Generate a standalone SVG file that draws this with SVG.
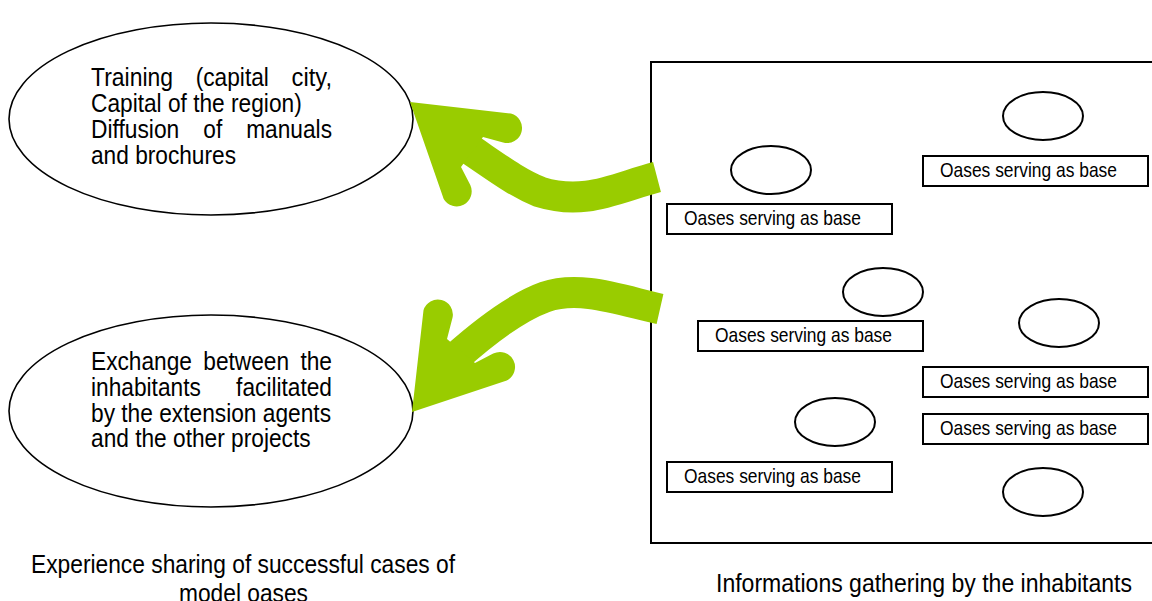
<svg xmlns="http://www.w3.org/2000/svg" width="1152" height="601" viewBox="0 0 1152 601">
  <defs>
    <style>
      .bg { fill: #ffffff; }
      .big { fill: #ffffff; stroke: #000000; stroke-width: 1.6; }
      .oasis { fill: #ffffff; stroke: #000000; stroke-width: 2; }
      .label { fill: #ffffff; stroke: #000000; stroke-width: 2; }
      .frame { fill: none; stroke: #000000; stroke-width: 2; }
      .txt { font-family: "Liberation Sans", Arial, sans-serif; fill: #000000; }
      .t26 { font-size: 26px; }
      .t21 { font-size: 21px; }
      .band { fill: none; stroke: #99cc00; stroke-width: 31; stroke-linecap: butt; }
      .head { fill: #99cc00; }
    </style>
  </defs>

  <rect class="bg" x="0" y="0" width="1152" height="601"/>

  <!-- left: shared experience -->
  <g id="training">
    <ellipse class="big" cx="211" cy="119" rx="202" ry="96"/>
    <g class="txt t26">
      <text x="91" y="86" textLength="82" lengthAdjust="spacingAndGlyphs">Training</text>
      <text x="195.7" y="86" textLength="73.2" lengthAdjust="spacingAndGlyphs">(capital</text>
      <text x="291.6" y="86" textLength="40.4" lengthAdjust="spacingAndGlyphs">city,</text>
      <text x="91" y="112" textLength="210.7" lengthAdjust="spacingAndGlyphs">Capital of the region)</text>
      <text x="91" y="138" textLength="88.3" lengthAdjust="spacingAndGlyphs">Diffusion</text>
      <text x="203.3" y="138" textLength="18.9" lengthAdjust="spacingAndGlyphs">of</text>
      <text x="246.2" y="138" textLength="85.8" lengthAdjust="spacingAndGlyphs">manuals</text>
      <text x="91" y="163.5" textLength="145" lengthAdjust="spacingAndGlyphs">and brochures</text>
    </g>
  </g>

  <g id="exchange">
    <ellipse class="big" cx="211" cy="411" rx="202" ry="96"/>
    <g class="txt t26">
      <text x="91" y="370" textLength="101" lengthAdjust="spacingAndGlyphs">Exchange</text>
      <text x="203.3" y="370" textLength="85.8" lengthAdjust="spacingAndGlyphs">between</text>
      <text x="300.4" y="370" textLength="31.6" lengthAdjust="spacingAndGlyphs">the</text>
      <text x="91" y="396" textLength="109.8" lengthAdjust="spacingAndGlyphs">inhabitants</text>
      <text x="236.1" y="396" textLength="95.9" lengthAdjust="spacingAndGlyphs">facilitated</text>
      <text x="91" y="421.5" textLength="240" lengthAdjust="spacingAndGlyphs">by the extension agents</text>
      <text x="91" y="447" textLength="219.6" lengthAdjust="spacingAndGlyphs">and the other projects</text>
    </g>
  </g>

  <g id="caption-left" class="txt t26">
    <text x="31" y="573" textLength="424" lengthAdjust="spacingAndGlyphs">Experience sharing of successful cases of</text>
    <text x="179" y="602" textLength="129" lengthAdjust="spacingAndGlyphs">model oases</text>
  </g>

  <!-- right: field area with base oases -->
  <g id="field">
    <rect class="frame" x="651" y="62" width="520" height="481"/>
  </g>

  <g id="oasis-1">
    <ellipse class="oasis" cx="771" cy="170" rx="40" ry="24"/>
    <rect class="label" x="667" y="204" width="225" height="30"/>
    <text class="txt t21" x="684" y="225" textLength="177" lengthAdjust="spacingAndGlyphs">Oases serving as base</text>
  </g>
  <g id="oasis-2">
    <ellipse class="oasis" cx="1043" cy="116" rx="40" ry="24"/>
    <rect class="label" x="923" y="156" width="225" height="30"/>
    <text class="txt t21" x="940" y="177" textLength="177" lengthAdjust="spacingAndGlyphs">Oases serving as base</text>
  </g>
  <g id="oasis-3">
    <ellipse class="oasis" cx="883" cy="292" rx="40" ry="24"/>
    <rect class="label" x="698" y="321" width="225" height="30"/>
    <text class="txt t21" x="715" y="342" textLength="177" lengthAdjust="spacingAndGlyphs">Oases serving as base</text>
  </g>
  <g id="oasis-4">
    <ellipse class="oasis" cx="1059" cy="323" rx="40" ry="24"/>
    <rect class="label" x="923" y="367" width="225" height="30"/>
    <text class="txt t21" x="940" y="388" textLength="177" lengthAdjust="spacingAndGlyphs">Oases serving as base</text>
  </g>
  <g id="oasis-5">
    <ellipse class="oasis" cx="835" cy="422" rx="40" ry="24"/>
    <rect class="label" x="923" y="414" width="225" height="30"/>
    <text class="txt t21" x="940" y="435" textLength="177" lengthAdjust="spacingAndGlyphs">Oases serving as base</text>
  </g>
  <g id="oasis-6">
    <ellipse class="oasis" cx="1043" cy="492" rx="40" ry="24"/>
    <rect class="label" x="667" y="462" width="225" height="30"/>
    <text class="txt t21" x="684" y="483" textLength="177" lengthAdjust="spacingAndGlyphs">Oases serving as base</text>
  </g>

  <g id="caption-right" class="txt t26">
    <text x="716" y="592" textLength="416" lengthAdjust="spacingAndGlyphs">Informations gathering by the inhabitants</text>
  </g>

  <!-- curved block arrows from the field to the two actions -->
  <g id="connectors">
    <path class="band" d="M 657,177 C 615,188 585,206 540,192 C 515,182 495,166 462,144"/>
    <path class="head" d="M 410,102 L 510.9,113.5 A 15 15 0 0 1 503.1,142.5 L 483,137 L 461,167 L 470.3,185.1 A 15 15 0 0 1 443.7,198.9 Z"/>
    <path class="band" d="M 660,309 C 620,300 580,285 545,297 C 520,306 492,325 455,358"/>
    <path class="head" d="M 412,412 L 423.5,310.2 A 15 15 0 0 1 452.5,317.8 L 447,339 L 475,363 L 493.2,353.6 A 15 15 0 0 1 506.8,380.4 Z"/>
  </g>
</svg>
